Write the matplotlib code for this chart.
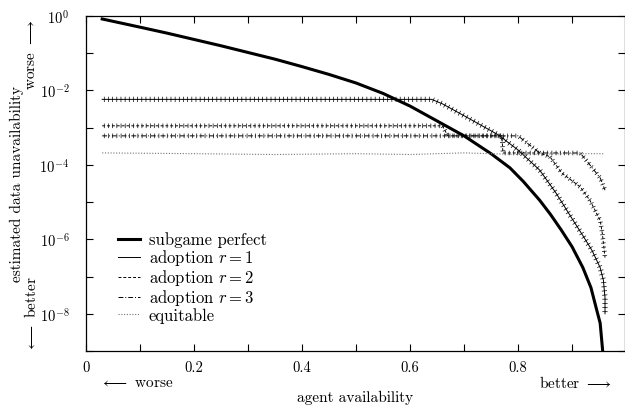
import numpy as np
import matplotlib
matplotlib.use('Agg')
import matplotlib.pyplot as plt
import matplotlib.patheffects as pe
from matplotlib.ticker import FixedLocator, LogFormatterMathtext, NullFormatter

plt.rcParams['font.family'] = 'serif'
plt.rcParams['font.serif'] = ['cmr10', 'DejaVu Serif']
plt.rcParams['mathtext.fontset'] = 'cm'
plt.rcParams['axes.formatter.use_mathtext'] = True
plt.rcParams['axes.unicode_minus'] = False
plt.rcParams['font.size'] = 10.5

# subgame perfect (log10 of unavailability)
sp_avail = [0.03, 0.10, 0.15, 0.20, 0.25, 0.30, 0.35, 0.40, 0.45, 0.50, 0.55,
            0.60, 0.65, 0.70, 0.75, 0.785, 0.81, 0.84, 0.86, 0.88, 0.90, 0.92,
            0.935, 0.946, 0.952, 0.957]
sp_log = [-0.08, -0.30, -0.46, -0.63, -0.80, -0.98, -1.16, -1.36, -1.57, -1.80, -2.08,
          -2.42, -2.82, -3.22, -3.70, -4.08, -4.45, -4.95, -5.33, -5.75, -6.20, -6.76,
          -7.30, -7.92, -8.25, -9.05]

# adoption r = 1
r1_avail = [0.03, 0.64, 0.66, 0.70, 0.763, 0.80, 0.84, 0.87, 0.902, 0.92, 0.937,
            0.952, 0.958, 0.961, 0.961]
r1_log = [-2.24, -2.24, -2.36, -2.68, -3.19, -3.60, -4.14, -4.75, -5.49, -5.90, -6.30,
          -6.76, -7.10, -7.57, -8.00]

# adoption r = 2
r2_avail = [0.03, 0.66, 0.67, 0.77, 0.772, 0.84, 0.859, 0.881, 0.915, 0.933, 0.952,
            0.956, 0.961]
r2_log = [-2.95, -2.95, -3.22, -3.22, -3.68, -3.68, -3.78, -4.22, -4.59, -4.95, -5.49,
          -5.84, -6.49]

# adoption r = 3
r3_avail = [0.03, 0.80, 0.84, 0.915, 0.933, 0.952, 0.961]
r3_log = [-3.22, -3.22, -3.68, -3.68, -4.00, -4.35, -4.68]

# equitable
eq_avail = [0.03, 0.20, 0.35, 0.50, 0.60, 0.70, 0.80, 0.90, 0.96]
eq_val = [2.1e-4, 2.0e-4, 1.9e-4, 2.0e-4, 1.9e-4, 2.1e-4, 1.9e-4, 2.0e-4, 2.0e-4]

# small vertical "error bar" ticks along the adoption curves
solid = {'dash_offset': 0, 'dash_list': None}
ticks = [pe.Normal(),
         pe.TickedStroke(spacing=3.0, angle=90, length=0.55, linewidth=0.5, dashes=solid),
         pe.TickedStroke(spacing=3.0, angle=-90, length=0.55, linewidth=0.5, dashes=solid)]

fig = plt.figure(figsize=(6.25, 4.06), dpi=100)
ax = fig.add_axes([86 / 625, 1 - 352 / 406, 1 - 86 / 625, (352 - 17) / 406])

ax.plot(sp_avail, 10 ** np.array(sp_log), color='black', lw=2.2, label='subgame perfect')
ax.plot(r1_avail, 10 ** np.array(r1_log), color='black', lw=0.7, ls='-',
        path_effects=ticks, label='adoption $r = 1$')
ax.plot(r2_avail, 10 ** np.array(r2_log), color='black', lw=0.7, ls=(0, (3, 2)),
        path_effects=ticks, label='adoption $r = 2$')
ax.plot(r3_avail, 10 ** np.array(r3_log), color='black', lw=0.7, ls=(0, (5, 2, 1, 2)),
        path_effects=ticks, label='adoption $r = 3$')
ax.plot(eq_avail, eq_val, color='0.45', lw=0.8, ls=(0, (1, 1.5)), label='equitable')

ax.set_yscale('log')
ax.set_xlim(0, 0.998)
ax.set_ylim(1e-9, 1)

ax.xaxis.set_major_locator(FixedLocator([0, 0.2, 0.4, 0.6, 0.8, 1.0]))
ax.xaxis.set_minor_locator(FixedLocator(np.arange(0.1, 1.0, 0.2)))
ax.set_xticklabels(['0', '0.2', '0.4', '0.6', '0.8', '1'])
ax.yaxis.set_major_locator(FixedLocator(10.0 ** np.arange(0, -9, -2)))
ax.yaxis.set_minor_locator(FixedLocator(10.0 ** np.arange(-1, -10, -2)))
ax.yaxis.set_major_formatter(LogFormatterMathtext())
ax.yaxis.set_minor_formatter(NullFormatter())

ax.tick_params(which='both', direction='in', top=True, right=True, width=0.8, labelsize=10.5)
ax.tick_params(which='both', length=5)
ax.tick_params(axis='x', which='major', pad=7)
ax.tick_params(axis='y', which='major', pad=12)
for s in ax.spines.values():
    s.set_linewidth(0.9)

ax.set_xlabel('agent availability', fontsize=11, labelpad=11)
ax.set_ylabel('estimated data unavailability', fontsize=11, labelpad=11)

fig.text(100 / 625, 1 - 383 / 406, r'$\longleftarrow$ worse', ha='left', va='center', fontsize=11)
fig.text(612 / 625, 1 - 383 / 406, r'better $\longrightarrow$', ha='right', va='center', fontsize=11)
fig.text(31 / 625, 1 - 55 / 406, r'worse $\longrightarrow$', rotation=90, ha='center', va='center', fontsize=11)
fig.text(31 / 625, 1 - 314 / 406, r'$\longleftarrow$ better', rotation=90, ha='center', va='center', fontsize=11)

leg = ax.legend(loc='upper left', bbox_to_anchor=(25 / 537, 1 - (226 - 17) / 335), frameon=False,
                fontsize=12, handlelength=1.35, handletextpad=0.5, labelspacing=0.0,
                borderaxespad=0)
for line in leg.get_lines():
    line.set_path_effects([])

fig.savefig('out.png', dpi=100)
